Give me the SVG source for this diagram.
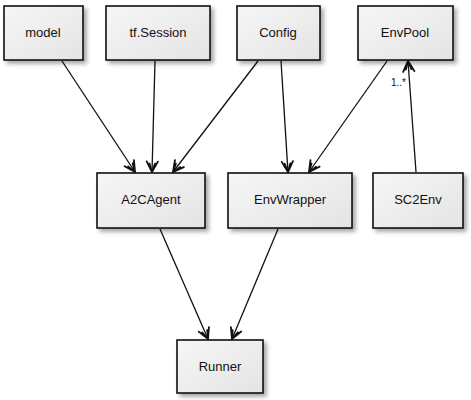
<svg xmlns="http://www.w3.org/2000/svg" width="471" height="400" viewBox="0 0 471 400">
<defs>
<linearGradient id="g" x1="0" y1="0" x2="1" y2="1">
<stop offset="0" stop-color="#f6f6f6"/>
<stop offset="1" stop-color="#e4e4e4"/>
</linearGradient>
<filter id="sh" x="-20%" y="-20%" width="150%" height="150%">
<feGaussianBlur in="SourceAlpha" stdDeviation="2"/>
<feOffset dx="3" dy="3" result="b"/>
<feComponentTransfer><feFuncA type="linear" slope="0.35"/></feComponentTransfer>
<feMerge><feMergeNode/><feMergeNode in="SourceGraphic"/></feMerge>
</filter>
<marker id="ah" viewBox="0 0 20 20" refX="18" refY="10" markerWidth="14" markerHeight="14" markerUnits="userSpaceOnUse" orient="auto">
<path d="M3,2 L18,10 L3,18 M6,6 L18,10 L6,14" fill="none" stroke="#111" stroke-width="2.6" stroke-linejoin="miter" stroke-linecap="round"/>
</marker>
</defs>
<style>
.box{fill:url(#g);stroke:#111;stroke-width:1.6;filter:url(#sh)}
.t{font-family:"Liberation Sans",Arial,sans-serif;font-size:13px;fill:#111;text-anchor:middle}
.c{stroke:#111;stroke-width:1.3;fill:none;marker-end:url(#ah)}
.l{font-family:"Liberation Sans",Arial,sans-serif;font-size:10px;fill:#111}
</style>
<rect width="471" height="400" fill="#fff"/>
<g id="connectors">
<line class="c" x1="62" y1="61" x2="135" y2="172"/>
<line class="c" x1="155" y1="61" x2="152" y2="172"/>
<line class="c" x1="258" y1="61" x2="173" y2="172"/>
<line class="c" x1="281" y1="61" x2="288" y2="172"/>
<line class="c" x1="387" y1="61" x2="309" y2="172"/>
<line class="c" x1="416" y1="172" x2="408" y2="61"/>
<line class="c" x1="160" y1="229" x2="208" y2="339"/>
<line class="c" x1="278" y1="229" x2="232" y2="339"/>
<text class="l" x="391" y="86">1..*</text>
</g>
<g id="model"><rect class="box" x="4" y="6" width="79" height="54"/><text class="t" x="43" y="37">model</text></g>
<g id="tfSession"><rect class="box" x="106" y="6" width="104" height="54"/><text class="t" x="158" y="37">tf.Session</text></g>
<g id="Config"><rect class="box" x="237" y="6" width="83" height="54"/><text class="t" x="278" y="37">Config</text></g>
<g id="EnvPool"><rect class="box" x="358" y="6" width="95" height="54"/><text class="t" x="405" y="37">EnvPool</text></g>
<g id="A2CAgent"><rect class="box" x="97" y="173" width="108" height="55"/><text class="t" x="151" y="204">A2CAgent</text></g>
<g id="EnvWrapper"><rect class="box" x="228" y="173" width="124" height="55"/><text class="t" x="290" y="204">EnvWrapper</text></g>
<g id="SC2Env"><rect class="box" x="373" y="173" width="90" height="55"/><text class="t" x="418" y="204">SC2Env</text></g>
<g id="Runner"><rect class="box" x="177" y="340" width="86" height="53"/><text class="t" x="220" y="371">Runner</text></g>
</svg>
